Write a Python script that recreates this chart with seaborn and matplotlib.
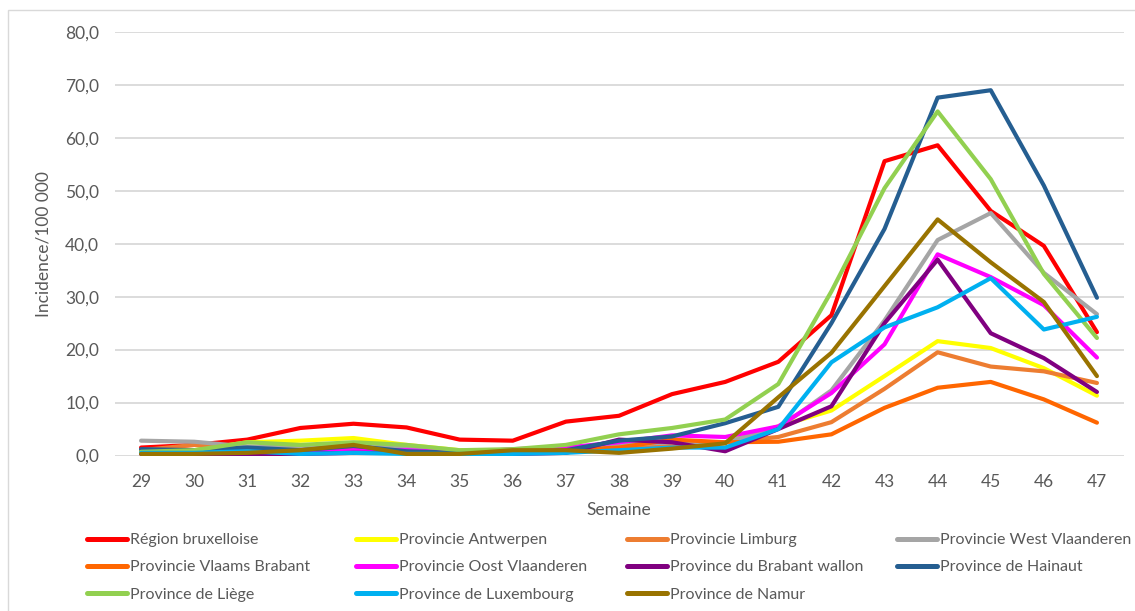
import numpy as np
import pandas as pd
import seaborn as sns
import matplotlib
matplotlib.use("Agg")
import matplotlib.pyplot as plt
from matplotlib.patches import Rectangle
from matplotlib.ticker import FuncFormatter

weeks = list(range(29, 48))

region_bruxelloise = [1.5, 2.0, 3.0, 5.2, 6.0, 5.3, 3.0, 2.8, 6.4, 7.5, 11.6, 13.9, 17.7, 26.5, 55.6, 58.6, 46.2, 39.6, 23.3]
antwerpen = [0.5, 1.0, 2.5, 2.8, 3.3, 2.0, 1.0, 1.0, 1.5, 2.0, 2.2, 2.5, 5.5, 8.5, 15.0, 21.6, 20.3, 16.5, 11.3]
limburg = [1.0, 2.0, 1.2, 1.0, 1.5, 1.0, 0.5, 1.0, 1.0, 1.0, 2.0, 2.5, 3.5, 6.3, 12.6, 19.5, 16.8, 15.9, 13.7]
west_vlaanderen = [2.8, 2.6, 1.7, 1.5, 2.2, 1.5, 0.8, 1.0, 1.5, 2.0, 2.5, 2.5, 5.2, 12.3, 25.5, 40.7, 45.8, 34.5, 26.7]
vlaams_brabant = [0.5, 0.5, 0.8, 0.8, 1.0, 0.8, 0.5, 1.0, 1.0, 1.5, 3.0, 2.5, 2.6, 4.0, 9.0, 12.8, 13.9, 10.6, 6.2]
oost_vlaanderen = [0.5, 0.5, 0.5, 0.5, 1.0, 1.0, 0.5, 1.2, 1.5, 2.5, 3.8, 3.5, 5.5, 11.8, 21.0, 38.0, 33.7, 28.4, 18.5]
brabant_wallon = [0.3, 0.2, 0.2, 0.3, 0.5, 0.5, 0.3, 0.3, 0.5, 3.0, 2.5, 0.8, 5.0, 9.3, 25.0, 37.0, 23.1, 18.4, 12.0]
hainaut = [1.2, 1.0, 1.5, 1.0, 1.8, 0.8, 0.5, 0.5, 1.0, 2.8, 3.6, 6.1, 9.2, 25.0, 42.8, 67.6, 69.0, 51.0, 29.8]
liege = [0.7, 1.0, 2.5, 2.0, 2.5, 2.0, 1.0, 1.2, 2.0, 4.0, 5.2, 6.8, 13.5, 31.0, 50.5, 65.0, 52.2, 34.3, 22.2]
luxembourg = [0.5, 0.5, 0.8, 0.3, 0.5, 0.3, 0.3, 0.3, 0.5, 1.0, 1.5, 1.5, 5.0, 17.6, 24.2, 28.0, 33.5, 23.8, 26.2]
namur = [0.3, 0.3, 0.5, 1.0, 2.0, 0.3, 0.3, 1.0, 1.0, 0.5, 1.3, 2.3, 11.0, 19.4, 32.0, 44.6, 36.5, 29.0, 15.0]

series_names = [
    "Région bruxelloise", "Provincie Antwerpen", "Provincie Limburg",
    "Provincie West Vlaanderen", "Provincie Vlaams Brabant", "Provincie Oost Vlaanderen",
    "Province du Brabant wallon", "Province de Hainaut", "Province de Liège",
    "Province de Luxembourg", "Province de Namur",
]
series_values = [
    region_bruxelloise, antwerpen, limburg, west_vlaanderen, vlaams_brabant,
    oost_vlaanderen, brabant_wallon, hainaut, liege, luxembourg, namur,
]
colors = ["#FF0000", "#FFFF00", "#ED7D31", "#A5A5A5", "#FF6600", "#FF00FF",
          "#800080", "#255E91", "#92D050", "#00B0F0", "#997300"]

df = pd.DataFrame({
    "Semaine": np.tile(weeks, len(series_names)),
    "Incidence": np.concatenate(series_values),
    "Zone": np.repeat(series_names, len(weeks)),
})

sns.set_theme(style="white")
plt.rcParams["font.family"] = ["Lato", "DejaVu Sans"]
text_color = "#595959"

fig = plt.figure(figsize=(11.35, 6.11), dpi=100)
ax = fig.add_axes([114.5 / 1135, 155.5 / 611, 1009 / 1135, 423.5 / 611])

sns.lineplot(data=df, x="Semaine", y="Incidence", hue="Zone", hue_order=series_names,
             palette=colors, linewidth=3.0, ax=ax, legend=True, sort=False)

ax.set_xlim(28.5, 47.5)
ax.set_ylim(0, 80)
ax.set_xticks(weeks)
ax.set_yticks(np.arange(0, 81, 10))
ax.yaxis.set_major_formatter(FuncFormatter(lambda v, p: f"{v:.1f}".replace(".", ",")))
ax.grid(axis="y", color="#D9D9D9", linewidth=1.3)
ax.set_axisbelow(True)
for s in ax.spines.values():
    s.set_visible(False)
ax.tick_params(axis="x", length=0, labelsize=12.5, labelcolor=text_color, pad=13)
ax.tick_params(axis="y", length=0, labelsize=12.5, labelcolor=text_color, pad=11)
ax.set_xlabel("Semaine", fontsize=12.5, color=text_color, labelpad=9)
ax.set_ylabel("Incidence/100 000", fontsize=12.5, color=text_color, labelpad=10)

handles, labels = ax.get_legend_handles_labels()
ax.get_legend().remove()
for h in handles:
    h.set_linewidth(3.6)

# legend laid out row by row in four fixed columns
col_x = [87, 356, 627, 897]
ncols = 4
for c, x0 in enumerate(col_x):
    idx = list(range(c, len(labels), ncols))
    fig.legend([handles[i] for i in idx], [labels[i] for i in idx],
               loc="upper left", bbox_to_anchor=(x0 / 1135, 1 - 533 / 611),
               ncol=1, frameon=False, fontsize=11.5, handlelength=2.5,
               handletextpad=0.2, labelspacing=0.82, borderpad=0.0,
               borderaxespad=0.0, labelcolor=text_color)

fig.patches.append(Rectangle((8, -5), 1140, 606, transform=None, fill=False,
                             edgecolor="#D9D9D9", linewidth=1.0, zorder=0))

fig.savefig("out.png", dpi=100, facecolor="white")
